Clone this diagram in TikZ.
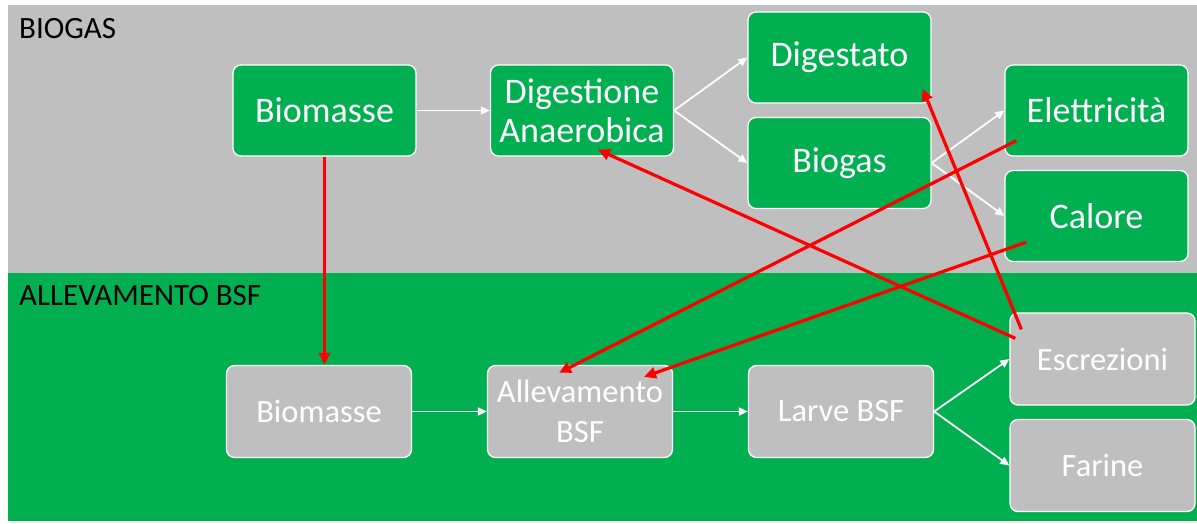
\documentclass[tikz,border=0pt]{standalone}
\usepackage{fontspec}
\setmainfont{Carlito}
\usetikzlibrary{arrows.meta,calc}
\definecolor{offgreen}{HTML}{00B050}
\definecolor{offgray}{HTML}{BFBFBF}
\definecolor{offred}{HTML}{FF0000}
\begin{document}
\begin{tikzpicture}[x=1pt,y=-1pt,
  gbox/.style={draw=white, line width=1.3pt, fill=offgreen, rounded corners=8pt,
    minimum width=183pt, minimum height=91pt, text=white, align=center,
    font=\fontsize{36}{39}\selectfont, inner sep=0pt},
  ybox/.style={draw=white, line width=1.3pt, fill=offgray, rounded corners=8pt,
    minimum width=185pt, minimum height=92pt, text=white, align=center,
    font=\fontsize{32.5}{40}\selectfont, inner sep=0pt},
  warr/.style={draw=white, line width=1.8pt, -{Triangle[length=9pt,width=8pt]}},
  rarr/.style={draw=offred, line width=3.2pt, -{Triangle[length=12pt,width=11pt]}},
  seclabel/.style={anchor=west, text=black, font=\fontsize{31}{33}\selectfont, inner sep=0pt}]
\useasboundingbox (0,0) rectangle (1197,523);
\fill[white] (0,0) rectangle (1197,523);
\fill[offgray] (8,5) rectangle (1197,273);
\fill[offgreen] (8,273) rectangle (1197,521);
\node[seclabel] (lbio) at (19,29) {BIOGAS};
\node[seclabel] (lall) at (19,296) {ALLEVAMENTO BSF};
% upper row
\node[gbox] (bio) at (324.5,110.5) {Biomasse};
\node[gbox] (dig) at (582,110.5) {Digestione\\Anaerobica};
\node[gbox] (dgs) at (839.5,57.5) {Digestato};
\node[gbox] (bgs) at (839.5,163) {Biogas};
\node[gbox] (ele) at (1096.5,110.5) {Elettricità};
\node[gbox] (cal) at (1096.5,216) {Calore};
% lower row
\node[ybox] (bio2) at (319,411.5) {Biomasse};
\node[ybox] (all) at (580,411.5) {Allevamento\\BSF};
\node[ybox] (lar) at (841,411.5) {Larve BSF};
\node[ybox] (esc) at (1102.5,359) {Escrezioni};
\node[ybox] (far) at (1102.5,465.5) {Farine};
% white arrows
\draw[warr] (bio.east) -- (dig.west);
\draw[warr] (dig.east) -- (dgs.west);
\draw[warr] (dig.east) -- (bgs.west);
\draw[warr] (bgs.east) -- (ele.west);
\draw[warr] (bgs.east) -- (cal.west);
\draw[warr] (bio2.east) -- (all.west);
\draw[warr] (all.east) -- (lar.west);
\draw[warr] (lar.east) -- (esc.west);
\draw[warr] (lar.east) -- (far.west);
% red arrows
\coordinate (r1s) at ($(esc.north west)+(6,26)$);
\coordinate (r1e) at ($(dig.south)+(16,-7)$);
\coordinate (r2s) at ($(esc.north west)+(12,17)$);
\coordinate (r2e) at ($(dgs.south east)+(-9,-15)$);
\coordinate (r3s) at ($(ele.south west)+(12,-16)$);
\coordinate (r3e) at ($(all.north)+(-21,8)$);
\coordinate (r4s) at ($(cal.south west)+(22,-20)$);
\coordinate (r4e) at ($(all.north)+(64,12)$);
\draw[rarr] (bio.south) -- (bio.south |- bio2.north);
\draw[rarr] (r1s) -- (r1e);
\draw[rarr] (r2s) -- (r2e);
\draw[rarr] (r3s) -- (r3e);
\draw[rarr] (r4s) -- (r4e);
\end{tikzpicture}
\end{document}
